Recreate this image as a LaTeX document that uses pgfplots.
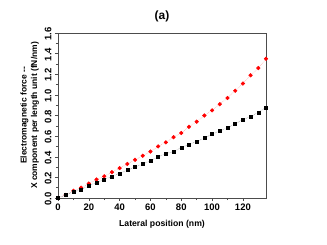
\documentclass[border=0pt]{standalone}
\usepackage{pgfplots}
\pgfplotsset{compat=1.18}
\usepackage{fontspec}
\setmainfont{Liberation Sans}
\begin{document}
\begin{tikzpicture}[x=1bp,y=1bp]
\path[use as bounding box] (0,0) rectangle (327,245);
\begin{axis}[
  at={(58bp,47bp)}, anchor=south west,
  scale only axis, width=208bp, height=165bp,
  xmin=0, xmax=135, ymin=0, ymax=1.6,
  xtick={0,20,...,120}, ytick={0,0.2,...,1.6},
  minor x tick num=1, minor y tick num=1,
  tick align=outside, tick pos=left,
  major tick length=3bp, minor tick length=2bp,
  axis line style={draw=black!70, line width=0.6pt},
  every tick/.style={black!70, line width=0.5pt},
  /pgf/number format/assume math mode=true,
  xticklabel style={font=\fontsize{9.5}{10}\selectfont\bfseries, yshift=1bp},
  yticklabel style={font=\fontsize{9.5}{10}\selectfont\bfseries, rotate=90, anchor=south, xshift=-1bp, /pgf/number format/fixed, /pgf/number format/fixed zerofill, /pgf/number format/precision=1},
  xlabel={Lateral position (nm)},
  xlabel style={font=\fontsize{8.7}{10}\selectfont\bfseries, yshift=-3bp},
  ylabel={Electromagnetic force -{}-\\X component per length unit (fN/nm)},
  ylabel style={font=\fontsize{8.5}{10.5}\selectfont\bfseries, align=center, yshift=-1bp},
  title={(a)},
  title style={font=\fontsize{12}{13}\selectfont\bfseries, yshift=2bp},
  clip=false,
]
\addplot[densely dotted, red!40, line width=0.5pt, mark=*, mark size=1.8bp, mark options={solid, fill=red, draw=red}] coordinates {
(0,0.00) (5,0.03) (10,0.07) (15,0.10) (20,0.14) (25,0.18) (30,0.21) (35,0.25) (40,0.29) (45,0.33) (50,0.37) (55,0.41) (60,0.45) (65,0.50) (70,0.54) (75,0.59) (80,0.63) (85,0.69) (90,0.74) (95,0.80) (100,0.85) (105,0.91) (110,0.97) (115,1.04) (120,1.11) (125,1.19) (130,1.26) (135,1.35)
};
\addplot[densely dotted, black!45, line width=0.5pt, mark=square*, mark size=1.5bp, mark options={solid, fill=black, draw=black}] coordinates {
(0,0.00) (5,0.03) (10,0.06) (15,0.08) (20,0.12) (25,0.15) (30,0.18) (35,0.21) (40,0.24) (45,0.27) (50,0.30) (55,0.33) (60,0.36) (65,0.40) (70,0.43) (75,0.45) (80,0.49) (85,0.52) (90,0.55) (95,0.58) (100,0.62) (105,0.65) (110,0.68) (115,0.72) (120,0.76) (125,0.79) (130,0.83) (135,0.88)
};
\end{axis}
\end{tikzpicture}
\end{document}
